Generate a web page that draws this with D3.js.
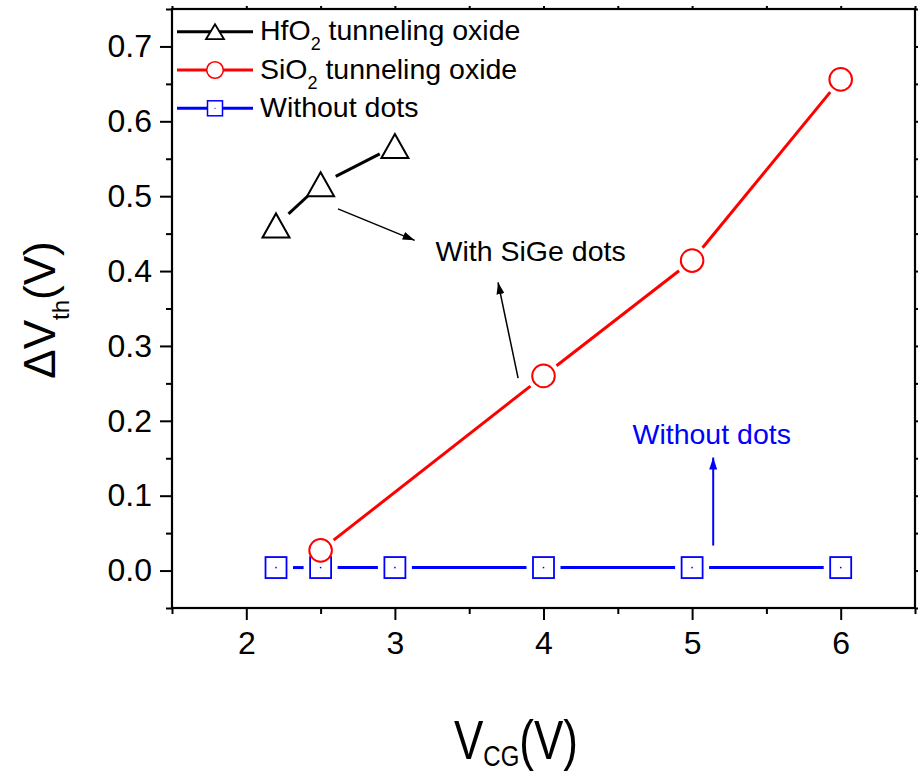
<!DOCTYPE html>
<html>
<head>
<meta charset="utf-8">
<script src="https://cdn.jsdelivr.net/npm/d3@7"></script>
<style>
  html, body { margin: 0; padding: 0; background: #fff; }
  svg { display: block; }
  text { font-family: "Liberation Sans", Arial, Helvetica, sans-serif; }
</style>
</head>
<body>
<svg id="chart" width="924" height="774"></svg>
<script>
// Threshold-voltage shift versus control-gate voltage
const vcgHfO2   = [2.2, 2.5, 3.0];
const dvthHfO2  = [0.461, 0.516, 0.567];

const vcgSiO2   = [2.5, 4, 5, 6];
const dvthSiO2  = [0.027, 0.260, 0.414, 0.656];

const vcgNoDots  = [2.2, 2.5, 3, 4, 5, 6];
const dvthNoDots = [0.004, 0.004, 0.004, 0.004, 0.004, 0.004];

const xMajorTicks = [2, 3, 4, 5, 6];
const xMinorTicks = [1.5, 2.5, 3.5, 4.5, 5.5, 6.5];
const yMajorTicks = [0.0, 0.1, 0.2, 0.3, 0.4, 0.5, 0.6, 0.7];
const yMinorTicks = [-0.05, 0.05, 0.15, 0.25, 0.35, 0.45, 0.55, 0.65, 0.75];

const legendNames = ["HfO", "SiO", "Without dots"];
const legendSubs  = ["2", "2", ""];
const legendTails = [" tunneling oxide", " tunneling oxide", ""];

const svg = d3.select("#chart");
const plotLeft = 172, plotRight = 915, plotTop = 9, plotBottom = 608;

const x = d3.scaleLinear().domain([1.5, 6.5]).range([plotLeft, plotRight]);
const y = d3.scaleLinear().domain([-0.05, 0.75]).range([plotBottom, plotTop]);

// ---- axes ----
function styleAxis(g) {
  g.select(".domain").remove();
  g.selectAll(".tick line").attr("stroke", "#000").attr("stroke-width", 2);
  g.selectAll(".tick text").attr("fill", "#000").style("font-size", "32px")
    .style("font-family", '"Liberation Sans", Arial, sans-serif');
}

svg.append("g").attr("transform", `translate(0,${plotBottom})`)
  .call(d3.axisBottom(x).tickValues(xMajorTicks).tickSize(12).tickPadding(11)
        .tickFormat(d3.format("d")))
  .call(styleAxis);
svg.append("g").attr("transform", `translate(0,${plotBottom})`)
  .call(d3.axisBottom(x).tickValues(xMinorTicks).tickSize(6).tickFormat(""))
  .call(styleAxis);

svg.append("g").attr("transform", `translate(${plotLeft},0)`)
  .call(d3.axisLeft(y).tickValues(yMajorTicks).tickSize(12).tickPadding(8)
        .tickFormat(d3.format(".1f")))
  .call(styleAxis);
svg.append("g").attr("transform", `translate(${plotLeft},0)`)
  .call(d3.axisLeft(y).tickValues(yMinorTicks).tickSize(6).tickFormat(""))
  .call(styleAxis);

// small outward ticks on the top and right edges
svg.append("g").attr("transform", `translate(0,${plotTop})`)
  .call(d3.axisTop(x).tickValues(xMajorTicks.concat(xMinorTicks)).tickSize(3).tickFormat(""))
  .call(styleAxis);
svg.append("g").attr("transform", `translate(${plotRight},0)`)
  .call(d3.axisRight(y).tickValues(yMajorTicks.concat(yMinorTicks)).tickSize(3).tickFormat(""))
  .call(styleAxis);

// frame
svg.append("rect")
  .attr("x", plotLeft).attr("y", plotTop)
  .attr("width", plotRight - plotLeft).attr("height", plotBottom - plotTop)
  .attr("fill", "none").attr("stroke", "#000").attr("stroke-width", 2.2);

// ---- series ----
// connecting lines stop short of each symbol, leaving a small gap
function gappedSegments(xs, ys, gap) {
  const segs = [];
  for (let i = 0; i < xs.length - 1; i++) {
    const x0 = x(xs[i]), y0 = y(ys[i]), x1 = x(xs[i + 1]), y1 = y(ys[i + 1]);
    const dx = x1 - x0, dy = y1 - y0, len = Math.hypot(dx, dy);
    if (len <= 2 * gap) continue;
    const ux = dx / len, uy = dy / len;
    segs.push([[x0 + ux * gap, y0 + uy * gap], [x1 - ux * gap, y1 - uy * gap]]);
  }
  return segs;
}
const line = d3.line();

function drawLines(xs, ys, color, gap) {
  svg.append("g").selectAll("path")
    .data(gappedSegments(xs, ys, gap))
    .join("path")
    .attr("d", d => line(d))
    .attr("fill", "none").attr("stroke", color).attr("stroke-width", 3);
}

drawLines(vcgNoDots, dvthNoDots, "#0000ff", 17);
drawLines(vcgSiO2, dvthSiO2, "#ff0000", 16.5);
drawLines(vcgHfO2, dvthHfO2, "#000000", 17);

const triPath = (cx, cy, w, h) =>
  `M${cx},${cy - h / 2} L${cx + w / 2},${cy + h / 2} L${cx - w / 2},${cy + h / 2} Z`;

// squares with a centre dot
const sq = svg.append("g").selectAll("g")
  .data(vcgNoDots.map((v, i) => [v, dvthNoDots[i]]))
  .join("g");
sq.append("rect")
  .attr("x", d => x(d[0]) - 10.5).attr("y", d => y(d[1]) - 10.5)
  .attr("width", 21).attr("height", 21)
  .attr("fill", "#fff").attr("stroke", "#0000ff").attr("stroke-width", 1.8);
sq.append("rect")
  .attr("x", d => x(d[0]) - 0.75).attr("y", d => y(d[1]) - 0.75)
  .attr("width", 1.5).attr("height", 1.5).attr("fill", "#0000ff");

// circles
svg.append("g").selectAll("circle")
  .data(vcgSiO2.map((v, i) => [v, dvthSiO2[i]]))
  .join("circle")
  .attr("cx", d => x(d[0])).attr("cy", d => y(d[1])).attr("r", 11.3)
  .attr("fill", "#fff").attr("stroke", "#ff0000").attr("stroke-width", 2);

// triangles
svg.append("g").selectAll("path")
  .data(vcgHfO2.map((v, i) => [v, dvthHfO2[i]]))
  .join("path")
  .attr("d", d => triPath(x(d[0]), y(d[1]), 27, 24))
  .attr("fill", "#fff").attr("stroke", "#000").attr("stroke-width", 2);

// ---- annotations ----
const defs = svg.append("defs");
function arrowHead(id, color) {
  defs.append("marker")
    .attr("id", id).attr("viewBox", "0 0 12 8")
    .attr("refX", 12).attr("refY", 4)
    .attr("markerWidth", 12).attr("markerHeight", 8)
    .attr("markerUnits", "userSpaceOnUse")
    .attr("orient", "auto")
    .append("path").attr("d", "M0,0 L12,4 L0,8 Z").attr("fill", color);
}
arrowHead("headBlack", "#000");
arrowHead("headBlue", "#0000ff");

const arrowFromX = [2.617, 3.829];
const arrowFromY = [0.483, 0.257];
const arrowToX   = [3.133, 3.694];
const arrowToY   = [0.441, 0.385];

svg.append("g").selectAll("line")
  .data(arrowFromX.map((v, i) => i))
  .join("line")
  .attr("x1", i => x(arrowFromX[i])).attr("y1", i => y(arrowFromY[i]))
  .attr("x2", i => x(arrowToX[i])).attr("y2", i => y(arrowToY[i]))
  .attr("stroke", "#000").attr("stroke-width", 1.5)
  .attr("marker-end", "url(#headBlack)");

svg.append("line")
  .attr("x1", x(5.142)).attr("y1", y(0.0334))
  .attr("x2", x(5.142)).attr("y2", y(0.151))
  .attr("stroke", "#0000ff").attr("stroke-width", 2)
  .attr("marker-end", "url(#headBlue)");

svg.append("text")
  .attr("x", x(3.274)).attr("y", y(0.414))
  .attr("font-size", 28.5).attr("fill", "#000")
  .text("With SiGe dots");

svg.append("text")
  .attr("x", x(4.599)).attr("y", y(0.169))
  .attr("font-size", 28.5).attr("fill", "#0000ff")
  .text("Without dots");

// ---- legend ----
const legendColors = ["#000000", "#ff0000", "#0000ff"];
const rowY = [31.7, 70, 108.3];
const lg = svg.append("g");
legendNames.forEach((name, i) => {
  const cy = rowY[i];
  lg.append("line").attr("x1", 177).attr("x2", 253).attr("y1", cy).attr("y2", cy)
    .attr("stroke", legendColors[i]).attr("stroke-width", 3);
  if (i === 0) {
    lg.append("path").attr("d", triPath(215, cy, 18, 15))
      .attr("fill", "#fff").attr("stroke", "#000").attr("stroke-width", 1.8);
  } else if (i === 1) {
    lg.append("circle").attr("cx", 215).attr("cy", cy).attr("r", 8.3)
      .attr("fill", "#fff").attr("stroke", "#ff0000").attr("stroke-width", 1.6);
  } else {
    lg.append("rect").attr("x", 215 - 7.5).attr("y", cy - 7.5).attr("width", 15).attr("height", 15)
      .attr("fill", "#fff").attr("stroke", "#0000ff").attr("stroke-width", 1.5);
    lg.append("rect").attr("x", 214.5).attr("y", cy - 0.5).attr("width", 1).attr("height", 1)
      .attr("fill", "#0000ff");
  }
  const t = lg.append("text").attr("x", 260).attr("y", cy + 8.5)
    .attr("font-size", 28.5).attr("fill", "#000");
  t.append("tspan").text(name);
  if (legendSubs[i]) {
    t.append("tspan").attr("dy", 10).attr("font-size", 18).text(legendSubs[i]);
    t.append("tspan").attr("dy", -10).text(legendTails[i]);
  }
});

// ---- axis titles ----
const xt = svg.append("text")
  .attr("text-anchor", "middle")
  .attr("transform", "translate(516,759) scale(0.8,1)")
  .attr("font-size", 55).attr("fill", "#000");
xt.append("tspan").text("V");
xt.append("tspan").attr("dy", 7).attr("font-size", 30).text("CG");
xt.append("tspan").attr("dy", -7).text("(V)");

const yt = svg.append("text")
  .attr("text-anchor", "middle")
  .attr("transform", "translate(55,310) rotate(-90)")
  .attr("font-size", 44).attr("fill", "#000");
yt.append("tspan").text("\u0394V");
yt.append("tspan").attr("dy", 14).attr("font-size", 24).text("th");
yt.append("tspan").attr("dy", -14).text("(V)");
</script>
</body>
</html>
